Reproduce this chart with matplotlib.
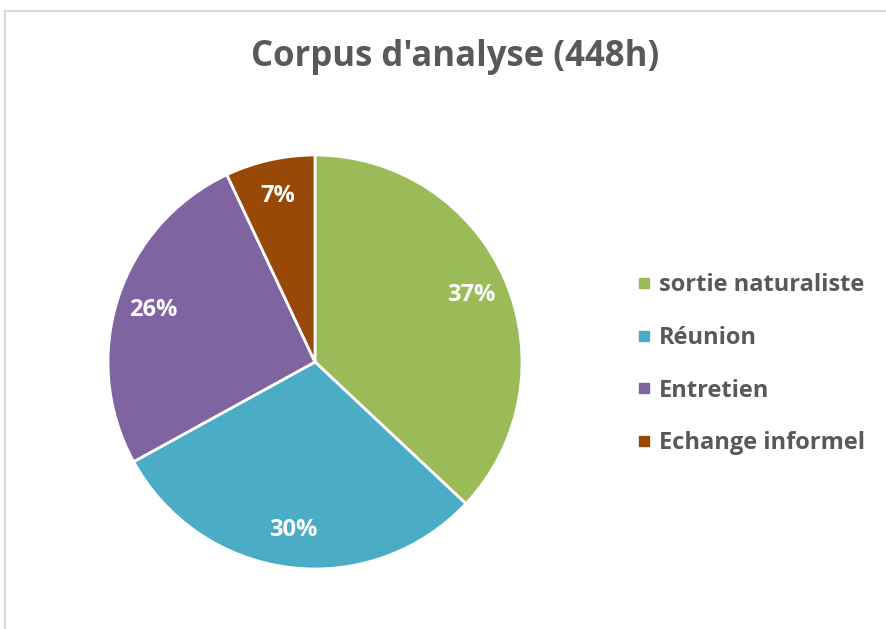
import matplotlib
matplotlib.use("Agg")
import matplotlib.pyplot as plt
from matplotlib.lines import Line2D

categories = ["sortie naturaliste", "Réunion", "Entretien", "Echange informel"]
values = [37, 30, 26, 7]
colors = ["#9BBB59", "#4BACC6", "#8064A2", "#984807"]
title = "Corpus d'analyse (448h)"

W, H = 887, 629
fig = plt.figure(figsize=(W / 100, H / 100), dpi=100)
fig.patch.set_facecolor("white")

# frame lines (chart area border)
fig.add_artist(Line2D([5 / W, 1], [1 - 11 / H, 1 - 11 / H], color="#D9D9D9", lw=1.5))
fig.add_artist(Line2D([5 / W, 5 / W], [0, 1 - 11 / H], color="#D9D9D9", lw=1.5))

FONT = "Open Sans"
cx, cy, r = 315, 362, 207
ax = fig.add_axes([(cx - r) / W, 1 - (cy + r) / H, 2 * r / W, 2 * r / H])
wedges, texts, autotexts = ax.pie(
    values, colors=colors, startangle=90, counterclock=False,
    autopct=lambda p: f"{p:.0f}%", pctdistance=0.82,
    wedgeprops=dict(edgecolor="white", linewidth=2),
    textprops=dict(color="white", fontsize=17, fontweight="bold", family=FONT),
)
ax.set_xlim(-1, 1)
ax.set_ylim(-1, 1)
ax.set_aspect("equal")
for w in wedges:
    w.set_clip_on(False)

fig.text(455 / W, 1 - 57 / H, title, ha="center", va="center",
         fontsize=25, fontweight="bold", color="#595959", family=FONT)

handles = [Line2D([], [], marker="s", linestyle="none", markersize=7,
                  markerfacecolor=c, markeredgecolor=c) for c in colors]
leg = fig.legend(handles, categories, loc="upper left",
                 bbox_to_anchor=(639 / W, 1 - 273 / H), frameon=False,
                 handlelength=0.45, handletextpad=0.4, labelspacing=1.22,
                 prop=dict(family=FONT, weight="bold", size=17),
                 borderaxespad=0, borderpad=0)
for t in leg.get_texts():
    t.set_color("#595959")

fig.savefig("out.png", dpi=100)
